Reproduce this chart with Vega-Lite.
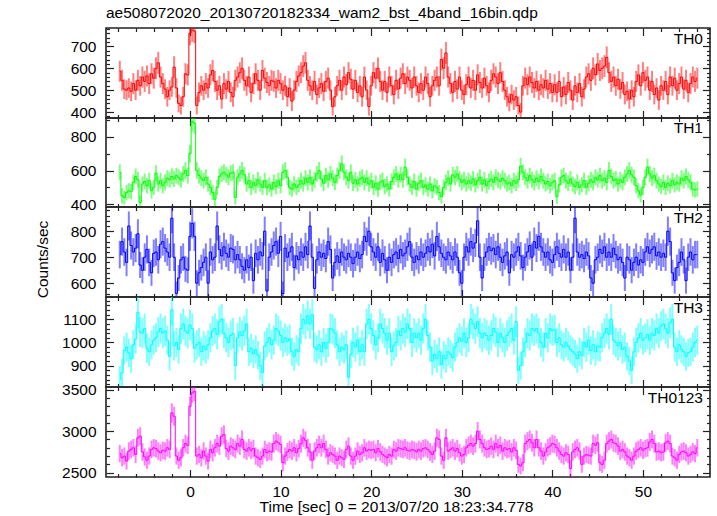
{
"$schema": "https://vega.github.io/schema/vega-lite/v6.json",
"padding": {"left": 34, "top": 5, "right": 5, "bottom": 0},
"spacing": 0,
"bounds": "flush",
"config": {
  "font": "Liberation Sans",
  "view": {"stroke": "#222222", "strokeWidth": 1.6},
  "axis": {"labelFont": "Liberation Sans", "labelFontSize": 15.5, "labelColor": "#000000", "titleFont": "Liberation Sans", "titleFontSize": 15.5, "titleFontWeight": "normal", "titleColor": "#000000", "domain": false, "grid": false, "tickColor": "#222222", "tickWidth": 1.2, "labelOverlap": false, "labelFlush": false},
  "text": {"font": "Liberation Sans", "fontSize": 15.5, "color": "#000000"}
},
"vconcat": [
{
 "width": 604, "height": 90,
 "title": {"text": "ae508072020_20130720182334_wam2_bst_4band_16bin.qdp", "anchor": "start", "frame": "group", "font": "Liberation Sans", "fontSize": 15.5, "fontWeight": "normal", "color": "#000000", "offset": 0},
 "data": {"name": "th0"},
 "layer": [
  {"mark": {"type": "errorbar", "color": "#ff0000", "opacity": 0.5, "thickness": 2, "clip": true},
   "encoding": {
    "x": {"field": "t", "type": "quantitative", "scale": {"domain": [-9.27, 57.4], "nice": false, "zero": false},
     "axis": {"orient": "bottom", "values": [-8,-6,-4,-2,0,2,4,6,8,10,12,14,16,18,20,22,24,26,28,30,32,34,36,38,40,42,44,46,48,50,52,54,56], "labels": false, "title": null, "tickSize": -7.5, "tickDash": {"condition": {"test": "datum.value % 10 === 0", "value": [8, 40]}, "value": [3.5, 40]}}},
    "y": {"field": "y", "type": "quantitative", "scale": {"domain": [373, 784], "nice": false, "zero": false},
     "axis": {"orient": "left", "values": [380,400,420,440,460,480,500,520,540,560,580,600,620,640,660,680,700,720,740,760,780], "format": "d", "labelExpr": "datum.value % 100 === 0 ? datum.label : ''", "labelPadding": 17.5, "title": null, "tickSize": -7.5, "tickDash": {"condition": {"test": "datum.value % 100 === 0", "value": [8, 40]}, "value": [3.5, 40]}}},
    "yError": {"field": "e"}
   }},
  {"mark": {"type": "line", "interpolate": "step", "color": "#ff0000", "strokeWidth": 1, "clip": true},
   "encoding": {
    "x": {"field": "t", "type": "quantitative", "scale": {"domain": [-9.27, 57.4], "nice": false, "zero": false},
     "axis": {"orient": "top", "values": [-8,-6,-4,-2,0,2,4,6,8,10,12,14,16,18,20,22,24,26,28,30,32,34,36,38,40,42,44,46,48,50,52,54,56], "labels": false, "title": null, "tickSize": -7.5, "tickDash": {"condition": {"test": "datum.value % 10 === 0", "value": [8, 40]}, "value": [3.5, 40]}}},
    "y": {"field": "y", "type": "quantitative", "scale": {"domain": [373, 784], "nice": false, "zero": false},
     "axis": {"orient": "right", "values": [380,400,420,440,460,480,500,520,540,560,580,600,620,640,660,680,700,720,740,760,780], "labels": false, "title": null, "tickSize": -7.5, "tickDash": {"condition": {"test": "datum.value % 100 === 0", "value": [8, 40]}, "value": [3.5, 40]}}}
   }},
  {"data": {"values": [{"label": "TH0"}]},
   "mark": {"type": "text", "align": "right", "baseline": "top", "dx": -7, "dy": 4},
   "encoding": {"x": {"datum": 57.4, "type": "quantitative", "axis": null}, "y": {"datum": 784, "type": "quantitative", "axis": null}, "text": {"field": "label"}}}
 ],
 "resolve": {"axis": {"x": "independent", "y": "independent"}}
},
{
 "width": 604, "height": 89,
 "data": {"name": "th1"},
 "layer": [
  {"mark": {"type": "errorbar", "color": "#00ff00", "opacity": 0.5, "thickness": 2, "clip": true},
   "encoding": {
    "x": {"field": "t", "type": "quantitative", "scale": {"domain": [-9.27, 57.4], "nice": false, "zero": false},
     "axis": {"orient": "bottom", "values": [-8,-6,-4,-2,0,2,4,6,8,10,12,14,16,18,20,22,24,26,28,30,32,34,36,38,40,42,44,46,48,50,52,54,56], "labels": false, "title": null, "tickSize": -7.5, "tickDash": {"condition": {"test": "datum.value % 10 === 0", "value": [8, 40]}, "value": [3.5, 40]}}},
    "y": {"field": "y", "type": "quantitative", "scale": {"domain": [384, 911], "nice": false, "zero": false},
     "axis": {"orient": "left", "values": [400,500,600,700,800,900], "format": "d", "labelExpr": "datum.value % 200 === 0 ? datum.label : ''", "labelPadding": 17.5, "title": null, "tickSize": -7.5, "tickDash": {"condition": {"test": "datum.value % 200 === 0", "value": [8, 40]}, "value": [3.5, 40]}}},
    "yError": {"field": "e"}
   }},
  {"mark": {"type": "line", "interpolate": "step", "color": "#00ff00", "strokeWidth": 1, "clip": true},
   "encoding": {
    "x": {"field": "t", "type": "quantitative", "scale": {"domain": [-9.27, 57.4], "nice": false, "zero": false},
     "axis": {"orient": "top", "values": [-8,-6,-4,-2,0,2,4,6,8,10,12,14,16,18,20,22,24,26,28,30,32,34,36,38,40,42,44,46,48,50,52,54,56], "labels": false, "title": null, "tickSize": -7.5, "tickDash": {"condition": {"test": "datum.value % 10 === 0", "value": [8, 40]}, "value": [3.5, 40]}}},
    "y": {"field": "y", "type": "quantitative", "scale": {"domain": [384, 911], "nice": false, "zero": false},
     "axis": {"orient": "right", "values": [400,500,600,700,800,900], "labels": false, "title": null, "tickSize": -7.5, "tickDash": {"condition": {"test": "datum.value % 200 === 0", "value": [8, 40]}, "value": [3.5, 40]}}}
   }},
  {"data": {"values": [{"label": "TH1"}]},
   "mark": {"type": "text", "align": "right", "baseline": "top", "dx": -7, "dy": 3},
   "encoding": {"x": {"datum": 57.4, "type": "quantitative", "axis": null}, "y": {"datum": 911, "type": "quantitative", "axis": null}, "text": {"field": "label"}}}
 ],
 "resolve": {"axis": {"x": "independent", "y": "independent"}}
},
{
 "width": 604, "height": 90,
 "data": {"name": "th2"},
 "layer": [
  {"mark": {"type": "errorbar", "color": "#0000ff", "opacity": 0.5, "thickness": 2, "clip": true},
   "encoding": {
    "x": {"field": "t", "type": "quantitative", "scale": {"domain": [-9.27, 57.4], "nice": false, "zero": false},
     "axis": {"orient": "bottom", "values": [-8,-6,-4,-2,0,2,4,6,8,10,12,14,16,18,20,22,24,26,28,30,32,34,36,38,40,42,44,46,48,50,52,54,56], "labels": false, "title": null, "tickSize": -7.5, "tickDash": {"condition": {"test": "datum.value % 10 === 0", "value": [8, 40]}, "value": [3.5, 40]}}},
    "y": {"field": "y", "type": "quantitative", "scale": {"domain": [547, 893], "nice": false, "zero": false},
     "axis": {"orient": "left", "values": [560,580,600,620,640,660,680,700,720,740,760,780,800,820,840,860,880], "format": "d", "labelExpr": "datum.value % 100 === 0 ? datum.label : ''", "labelPadding": 17.5, "title": "Counts/sec", "titlePadding": 20, "titleY": 52, "tickSize": -7.5, "tickDash": {"condition": {"test": "datum.value % 100 === 0", "value": [8, 40]}, "value": [3.5, 40]}}},
    "yError": {"field": "e"}
   }},
  {"mark": {"type": "line", "interpolate": "step", "color": "#0000ff", "strokeWidth": 1, "clip": true},
   "encoding": {
    "x": {"field": "t", "type": "quantitative", "scale": {"domain": [-9.27, 57.4], "nice": false, "zero": false},
     "axis": {"orient": "top", "values": [-8,-6,-4,-2,0,2,4,6,8,10,12,14,16,18,20,22,24,26,28,30,32,34,36,38,40,42,44,46,48,50,52,54,56], "labels": false, "title": null, "tickSize": -7.5, "tickDash": {"condition": {"test": "datum.value % 10 === 0", "value": [8, 40]}, "value": [3.5, 40]}}},
    "y": {"field": "y", "type": "quantitative", "scale": {"domain": [547, 893], "nice": false, "zero": false},
     "axis": {"orient": "right", "values": [560,580,600,620,640,660,680,700,720,740,760,780,800,820,840,860,880], "labels": false, "title": null, "tickSize": -7.5, "tickDash": {"condition": {"test": "datum.value % 100 === 0", "value": [8, 40]}, "value": [3.5, 40]}}}
   }},
  {"data": {"values": [{"label": "TH2"}]},
   "mark": {"type": "text", "align": "right", "baseline": "top", "dx": -7, "dy": 4},
   "encoding": {"x": {"datum": 57.4, "type": "quantitative", "axis": null}, "y": {"datum": 893, "type": "quantitative", "axis": null}, "text": {"field": "label"}}}
 ],
 "resolve": {"axis": {"x": "independent", "y": "independent"}}
},
{
 "width": 604, "height": 90,
 "data": {"name": "th3"},
 "layer": [
  {"mark": {"type": "errorbar", "color": "#00ffff", "opacity": 0.5, "thickness": 2, "clip": true},
   "encoding": {
    "x": {"field": "t", "type": "quantitative", "scale": {"domain": [-9.27, 57.4], "nice": false, "zero": false},
     "axis": {"orient": "bottom", "values": [-8,-6,-4,-2,0,2,4,6,8,10,12,14,16,18,20,22,24,26,28,30,32,34,36,38,40,42,44,46,48,50,52,54,56], "labels": false, "title": null, "tickSize": -7.5, "tickDash": {"condition": {"test": "datum.value % 10 === 0", "value": [8, 40]}, "value": [3.5, 40]}}},
    "y": {"field": "y", "type": "quantitative", "scale": {"domain": [808, 1196], "nice": false, "zero": false},
     "axis": {"orient": "left", "values": [820,840,860,880,900,920,940,960,980,1000,1020,1040,1060,1080,1100,1120,1140,1160,1180], "format": "d", "labelExpr": "datum.value % 100 === 0 ? datum.label : ''", "labelPadding": 17.5, "title": null, "tickSize": -7.5, "tickDash": {"condition": {"test": "datum.value % 100 === 0", "value": [8, 40]}, "value": [3.5, 40]}}},
    "yError": {"field": "e"}
   }},
  {"mark": {"type": "line", "interpolate": "step", "color": "#00ffff", "strokeWidth": 1, "clip": true},
   "encoding": {
    "x": {"field": "t", "type": "quantitative", "scale": {"domain": [-9.27, 57.4], "nice": false, "zero": false},
     "axis": {"orient": "top", "values": [-8,-6,-4,-2,0,2,4,6,8,10,12,14,16,18,20,22,24,26,28,30,32,34,36,38,40,42,44,46,48,50,52,54,56], "labels": false, "title": null, "tickSize": -7.5, "tickDash": {"condition": {"test": "datum.value % 10 === 0", "value": [8, 40]}, "value": [3.5, 40]}}},
    "y": {"field": "y", "type": "quantitative", "scale": {"domain": [808, 1196], "nice": false, "zero": false},
     "axis": {"orient": "right", "values": [820,840,860,880,900,920,940,960,980,1000,1020,1040,1060,1080,1100,1120,1140,1160,1180], "labels": false, "title": null, "tickSize": -7.5, "tickDash": {"condition": {"test": "datum.value % 100 === 0", "value": [8, 40]}, "value": [3.5, 40]}}}
   }},
  {"data": {"values": [{"label": "TH3"}]},
   "mark": {"type": "text", "align": "right", "baseline": "top", "dx": -7, "dy": 4},
   "encoding": {"x": {"datum": 57.4, "type": "quantitative", "axis": null}, "y": {"datum": 1196, "type": "quantitative", "axis": null}, "text": {"field": "label"}}}
 ],
 "resolve": {"axis": {"x": "independent", "y": "independent"}}
},
{
 "width": 604, "height": 90,
 "data": {"name": "th0123"},
 "layer": [
  {"mark": {"type": "errorbar", "color": "#ff00ff", "opacity": 0.5, "thickness": 2, "clip": true},
   "encoding": {
    "x": {"field": "t", "type": "quantitative", "scale": {"domain": [-9.27, 57.4], "nice": false, "zero": false},
     "axis": {"orient": "bottom", "values": [-8,-6,-4,-2,0,2,4,6,8,10,12,14,16,18,20,22,24,26,28,30,32,34,36,38,40,42,44,46,48,50,52,54,56], "format": "d", "labelExpr": "datum.value % 10 === 0 ? datum.label : ''", "labelPadding": 14.5, "title": "Time [sec] 0 = 2013/07/20 18:23:34.778", "titlePadding": 0, "titleX": 290, "tickSize": -7.5, "tickDash": {"condition": {"test": "datum.value % 10 === 0", "value": [8, 40]}, "value": [3.5, 40]}}},
    "y": {"field": "y", "type": "quantitative", "scale": {"domain": [2448, 3532], "nice": false, "zero": false},
     "axis": {"orient": "left", "values": [2500,2600,2700,2800,2900,3000,3100,3200,3300,3400,3500], "format": "d", "labelExpr": "datum.value % 500 === 0 ? datum.label : ''", "labelPadding": 17.5, "title": null, "tickSize": -7.5, "tickDash": {"condition": {"test": "datum.value % 500 === 0", "value": [8, 40]}, "value": [3.5, 40]}}},
    "yError": {"field": "e"}
   }},
  {"mark": {"type": "line", "interpolate": "step", "color": "#ff00ff", "strokeWidth": 1, "clip": true},
   "encoding": {
    "x": {"field": "t", "type": "quantitative", "scale": {"domain": [-9.27, 57.4], "nice": false, "zero": false},
     "axis": {"orient": "top", "values": [-8,-6,-4,-2,0,2,4,6,8,10,12,14,16,18,20,22,24,26,28,30,32,34,36,38,40,42,44,46,48,50,52,54,56], "labels": false, "title": null, "tickSize": -7.5, "tickDash": {"condition": {"test": "datum.value % 10 === 0", "value": [8, 40]}, "value": [3.5, 40]}}},
    "y": {"field": "y", "type": "quantitative", "scale": {"domain": [2448, 3532], "nice": false, "zero": false},
     "axis": {"orient": "right", "values": [2500,2600,2700,2800,2900,3000,3100,3200,3300,3400,3500], "labels": false, "title": null, "tickSize": -7.5, "tickDash": {"condition": {"test": "datum.value % 500 === 0", "value": [8, 40]}, "value": [3.5, 40]}}}
   }},
  {"data": {"values": [{"label": "TH0123"}]},
   "mark": {"type": "text", "align": "right", "baseline": "top", "dx": -7, "dy": 4},
   "encoding": {"x": {"datum": 57.4, "type": "quantitative", "axis": null}, "y": {"datum": 3532, "type": "quantitative", "axis": null}, "text": {"field": "label"}}}
 ],
 "resolve": {"axis": {"x": "independent", "y": "independent"}}
}
],
"datasets": {
"th0": [
{"t":-7.75,"y":586,"e":48},{"t":-7.5,"y":545,"e":48},{"t":-7.25,"y":505,"e":45},{"t":-7,"y":500,"e":45},
{"t":-6.75,"y":510,"e":45},{"t":-6.5,"y":495,"e":45},{"t":-6.25,"y":530,"e":48},{"t":-6,"y":500,"e":45},
{"t":-5.75,"y":545,"e":48},{"t":-5.5,"y":520,"e":45},{"t":-5.25,"y":560,"e":48},{"t":-5,"y":540,"e":48},
{"t":-4.75,"y":565,"e":48},{"t":-4.5,"y":530,"e":48},{"t":-4.25,"y":575,"e":48},{"t":-4,"y":555,"e":48},
{"t":-3.75,"y":600,"e":50},{"t":-3.5,"y":625,"e":50},{"t":-3.25,"y":560,"e":48},{"t":-3,"y":530,"e":48},
{"t":-2.75,"y":505,"e":45},{"t":-2.5,"y":470,"e":45},{"t":-2.25,"y":500,"e":45},{"t":-2,"y":515,"e":45},
{"t":-1.75,"y":605,"e":50},{"t":-1.5,"y":510,"e":45},{"t":-1.25,"y":440,"e":41},{"t":-1,"y":430,"e":41},
{"t":-0.75,"y":470,"e":45},{"t":-0.5,"y":575,"e":48},{"t":-0.25,"y":570,"e":48},{"t":0,"y":760,"e":55},
{"t":0.25,"y":775,"e":55},{"t":0.5,"y":770,"e":55},{"t":0.75,"y":430,"e":41},{"t":1,"y":490,"e":45},
{"t":1.25,"y":520,"e":45},{"t":1.5,"y":500,"e":45},{"t":1.75,"y":530,"e":48},{"t":2,"y":510,"e":45},
{"t":2.25,"y":570,"e":48},{"t":2.5,"y":590,"e":48},{"t":2.75,"y":540,"e":48},{"t":3,"y":500,"e":45},
{"t":3.25,"y":520,"e":45},{"t":3.5,"y":460,"e":45},{"t":3.75,"y":530,"e":48},{"t":4,"y":505,"e":45},
{"t":4.25,"y":540,"e":48},{"t":4.5,"y":490,"e":45},{"t":4.75,"y":470,"e":45},{"t":5,"y":545,"e":48},
{"t":5.25,"y":560,"e":48},{"t":5.5,"y":580,"e":48},{"t":5.75,"y":600,"e":50},{"t":6,"y":545,"e":48},
{"t":6.25,"y":520,"e":45},{"t":6.5,"y":560,"e":48},{"t":6.75,"y":490,"e":45},{"t":7,"y":530,"e":48},
{"t":7.25,"y":575,"e":48},{"t":7.5,"y":545,"e":48},{"t":7.75,"y":500,"e":45},{"t":8,"y":590,"e":48},
{"t":8.25,"y":555,"e":48},{"t":8.5,"y":535,"e":48},{"t":8.75,"y":520,"e":45},{"t":9,"y":545,"e":48},
{"t":9.25,"y":540,"e":48},{"t":9.5,"y":510,"e":45},{"t":9.75,"y":545,"e":48},{"t":10,"y":530,"e":48},
{"t":10.25,"y":500,"e":45},{"t":10.5,"y":520,"e":45},{"t":10.75,"y":470,"e":45},{"t":11,"y":510,"e":45},
{"t":11.25,"y":450,"e":45},{"t":11.5,"y":500,"e":45},{"t":11.75,"y":540,"e":48},{"t":12,"y":565,"e":48},
{"t":12.25,"y":580,"e":48},{"t":12.5,"y":610,"e":50},{"t":12.75,"y":625,"e":50},{"t":13,"y":545,"e":48},
{"t":13.25,"y":520,"e":45},{"t":13.5,"y":500,"e":45},{"t":13.75,"y":540,"e":48},{"t":14,"y":480,"e":45},
{"t":14.25,"y":510,"e":45},{"t":14.5,"y":530,"e":48},{"t":14.75,"y":495,"e":45},{"t":15,"y":540,"e":48},
{"t":15.25,"y":555,"e":48},{"t":15.5,"y":500,"e":45},{"t":15.75,"y":425,"e":41},{"t":16,"y":470,"e":45},
{"t":16.25,"y":520,"e":45},{"t":16.5,"y":545,"e":48},{"t":16.75,"y":500,"e":45},{"t":17,"y":560,"e":48},
{"t":17.25,"y":525,"e":48},{"t":17.5,"y":580,"e":48},{"t":17.75,"y":550,"e":48},{"t":18,"y":505,"e":45},
{"t":18.25,"y":545,"e":48},{"t":18.5,"y":490,"e":45},{"t":18.75,"y":520,"e":45},{"t":19,"y":470,"e":45},
{"t":19.25,"y":560,"e":48},{"t":19.5,"y":500,"e":45},{"t":19.75,"y":425,"e":41},{"t":20,"y":520,"e":45},
{"t":20.25,"y":580,"e":48},{"t":20.5,"y":555,"e":48},{"t":20.75,"y":600,"e":50},{"t":21,"y":540,"e":48},
{"t":21.25,"y":500,"e":45},{"t":21.5,"y":540,"e":48},{"t":21.75,"y":490,"e":45},{"t":22,"y":560,"e":48},
{"t":22.25,"y":520,"e":45},{"t":22.5,"y":480,"e":45},{"t":22.75,"y":545,"e":48},{"t":23,"y":505,"e":45},
{"t":23.25,"y":555,"e":48},{"t":23.5,"y":575,"e":48},{"t":23.75,"y":530,"e":48},{"t":24,"y":560,"e":48},
{"t":24.25,"y":545,"e":48},{"t":24.5,"y":510,"e":45},{"t":24.75,"y":560,"e":48},{"t":25,"y":520,"e":45},
{"t":25.25,"y":490,"e":45},{"t":25.5,"y":530,"e":48},{"t":25.75,"y":500,"e":45},{"t":26,"y":560,"e":48},
{"t":26.25,"y":530,"e":48},{"t":26.5,"y":470,"e":45},{"t":26.75,"y":520,"e":45},{"t":27,"y":545,"e":48},
{"t":27.25,"y":560,"e":48},{"t":27.5,"y":520,"e":45},{"t":27.75,"y":640,"e":50},{"t":28,"y":600,"e":50},
{"t":28.25,"y":670,"e":50},{"t":28.5,"y":560,"e":48},{"t":28.75,"y":530,"e":48},{"t":29,"y":490,"e":45},
{"t":29.25,"y":540,"e":48},{"t":29.5,"y":505,"e":45},{"t":29.75,"y":560,"e":48},{"t":30,"y":500,"e":45},
{"t":30.25,"y":480,"e":45},{"t":30.5,"y":525,"e":48},{"t":30.75,"y":560,"e":48},{"t":31,"y":510,"e":45},
{"t":31.25,"y":545,"e":48},{"t":31.5,"y":500,"e":45},{"t":31.75,"y":570,"e":48},{"t":32,"y":535,"e":48},
{"t":32.25,"y":510,"e":45},{"t":32.5,"y":555,"e":48},{"t":32.75,"y":520,"e":45},{"t":33,"y":490,"e":45},
{"t":33.25,"y":545,"e":48},{"t":33.5,"y":575,"e":48},{"t":33.75,"y":560,"e":48},{"t":34,"y":530,"e":48},
{"t":34.25,"y":580,"e":48},{"t":34.5,"y":540,"e":48},{"t":34.75,"y":500,"e":45},{"t":35,"y":470,"e":45},
{"t":35.25,"y":445,"e":41},{"t":35.5,"y":480,"e":45},{"t":35.75,"y":455,"e":45},{"t":36,"y":470,"e":45},
{"t":36.25,"y":430,"e":41},{"t":36.5,"y":400,"e":41},{"t":36.75,"y":520,"e":45},{"t":37,"y":555,"e":48},
{"t":37.25,"y":525,"e":48},{"t":37.5,"y":560,"e":48},{"t":37.75,"y":535,"e":48},{"t":38,"y":510,"e":45},
{"t":38.25,"y":540,"e":48},{"t":38.5,"y":500,"e":45},{"t":38.75,"y":525,"e":48},{"t":39,"y":510,"e":45},
{"t":39.25,"y":545,"e":48},{"t":39.5,"y":505,"e":45},{"t":39.75,"y":530,"e":48},{"t":40,"y":490,"e":45},
{"t":40.25,"y":525,"e":48},{"t":40.5,"y":490,"e":45},{"t":40.75,"y":540,"e":48},{"t":41,"y":470,"e":45},
{"t":41.25,"y":515,"e":45},{"t":41.5,"y":480,"e":45},{"t":41.75,"y":535,"e":48},{"t":42,"y":500,"e":45},
{"t":42.25,"y":455,"e":45},{"t":42.5,"y":520,"e":45},{"t":42.75,"y":490,"e":45},{"t":43,"y":530,"e":48},
{"t":43.25,"y":470,"e":45},{"t":43.5,"y":505,"e":45},{"t":43.75,"y":560,"e":48},{"t":44,"y":575,"e":48},
{"t":44.25,"y":545,"e":48},{"t":44.5,"y":600,"e":50},{"t":44.75,"y":570,"e":48},{"t":45,"y":620,"e":50},
{"t":45.25,"y":590,"e":48},{"t":45.5,"y":600,"e":50},{"t":45.75,"y":610,"e":50},{"t":46,"y":650,"e":50},
{"t":46.25,"y":580,"e":48},{"t":46.5,"y":540,"e":48},{"t":46.75,"y":560,"e":48},{"t":47,"y":520,"e":45},
{"t":47.25,"y":550,"e":48},{"t":47.5,"y":505,"e":45},{"t":47.75,"y":535,"e":48},{"t":48,"y":480,"e":45},
{"t":48.25,"y":495,"e":45},{"t":48.5,"y":460,"e":45},{"t":48.75,"y":500,"e":45},{"t":49,"y":470,"e":45},
{"t":49.25,"y":540,"e":48},{"t":49.5,"y":570,"e":48},{"t":49.75,"y":520,"e":45},{"t":50,"y":580,"e":48},
{"t":50.25,"y":545,"e":48},{"t":50.5,"y":560,"e":48},{"t":50.75,"y":500,"e":45},{"t":51,"y":540,"e":48},
{"t":51.25,"y":480,"e":45},{"t":51.5,"y":510,"e":45},{"t":51.75,"y":455,"e":45},{"t":52,"y":520,"e":45},
{"t":52.25,"y":500,"e":45},{"t":52.5,"y":540,"e":48},{"t":52.75,"y":480,"e":45},{"t":53,"y":560,"e":48},
{"t":53.25,"y":520,"e":45},{"t":53.5,"y":555,"e":48},{"t":53.75,"y":500,"e":45},{"t":54,"y":530,"e":48},
{"t":54.25,"y":560,"e":48},{"t":54.5,"y":505,"e":45},{"t":54.75,"y":545,"e":48},{"t":55,"y":490,"e":45},
{"t":55.25,"y":530,"e":48},{"t":55.5,"y":560,"e":48},{"t":55.75,"y":540,"e":48},{"t":56,"y":555,"e":48}
],
"th1": [
{"t":-7.75,"y":590,"e":47},{"t":-7.5,"y":450,"e":45},{"t":-7.25,"y":440,"e":41},{"t":-7,"y":470,"e":45},
{"t":-6.75,"y":480,"e":45},{"t":-6.5,"y":475,"e":45},{"t":-6.25,"y":530,"e":47},{"t":-6,"y":565,"e":47},
{"t":-5.75,"y":545,"e":47},{"t":-5.5,"y":410,"e":41},{"t":-5.25,"y":520,"e":45},{"t":-5,"y":535,"e":47},
{"t":-4.75,"y":510,"e":45},{"t":-4.5,"y":540,"e":47},{"t":-4.25,"y":480,"e":45},{"t":-4,"y":500,"e":45},
{"t":-3.75,"y":585,"e":47},{"t":-3.5,"y":520,"e":45},{"t":-3.25,"y":540,"e":47},{"t":-3,"y":510,"e":45},
{"t":-2.75,"y":530,"e":47},{"t":-2.5,"y":555,"e":47},{"t":-2.25,"y":545,"e":47},{"t":-2,"y":565,"e":47},
{"t":-1.75,"y":550,"e":47},{"t":-1.5,"y":570,"e":47},{"t":-1.25,"y":560,"e":47},{"t":-1,"y":545,"e":47},
{"t":-0.75,"y":580,"e":47},{"t":-0.5,"y":600,"e":50},{"t":-0.25,"y":570,"e":47},{"t":0,"y":700,"e":53},
{"t":0.25,"y":890,"e":60},{"t":0.5,"y":880,"e":60},{"t":0.75,"y":600,"e":50},{"t":1,"y":570,"e":47},
{"t":1.25,"y":555,"e":47},{"t":1.5,"y":540,"e":47},{"t":1.75,"y":560,"e":47},{"t":2,"y":520,"e":45},
{"t":2.25,"y":500,"e":45},{"t":2.5,"y":470,"e":45},{"t":2.75,"y":430,"e":41},{"t":3,"y":500,"e":45},
{"t":3.25,"y":565,"e":47},{"t":3.5,"y":580,"e":47},{"t":3.75,"y":590,"e":47},{"t":4,"y":575,"e":47},
{"t":4.25,"y":560,"e":47},{"t":4.5,"y":585,"e":47},{"t":4.75,"y":590,"e":47},{"t":5,"y":440,"e":41},
{"t":5.25,"y":560,"e":47},{"t":5.5,"y":580,"e":47},{"t":5.75,"y":600,"e":50},{"t":6,"y":575,"e":47},
{"t":6.25,"y":520,"e":45},{"t":6.5,"y":540,"e":47},{"t":6.75,"y":500,"e":45},{"t":7,"y":530,"e":47},
{"t":7.25,"y":510,"e":45},{"t":7.5,"y":545,"e":47},{"t":7.75,"y":520,"e":45},{"t":8,"y":500,"e":45},
{"t":8.25,"y":540,"e":47},{"t":8.5,"y":500,"e":45},{"t":8.75,"y":515,"e":45},{"t":9,"y":490,"e":45},
{"t":9.25,"y":530,"e":47},{"t":9.5,"y":505,"e":45},{"t":9.75,"y":540,"e":47},{"t":10,"y":510,"e":45},
{"t":10.25,"y":590,"e":47},{"t":10.5,"y":600,"e":50},{"t":10.75,"y":560,"e":47},{"t":11,"y":500,"e":45},
{"t":11.25,"y":490,"e":45},{"t":11.5,"y":520,"e":45},{"t":11.75,"y":500,"e":45},{"t":12,"y":515,"e":45},
{"t":12.25,"y":540,"e":47},{"t":12.5,"y":520,"e":45},{"t":12.75,"y":555,"e":47},{"t":13,"y":530,"e":47},
{"t":13.25,"y":560,"e":47},{"t":13.5,"y":520,"e":45},{"t":13.75,"y":545,"e":47},{"t":14,"y":580,"e":47},
{"t":14.25,"y":600,"e":50},{"t":14.5,"y":550,"e":47},{"t":14.75,"y":525,"e":47},{"t":15,"y":570,"e":47},
{"t":15.25,"y":545,"e":47},{"t":15.5,"y":580,"e":47},{"t":15.75,"y":555,"e":47},{"t":16,"y":530,"e":47},
{"t":16.25,"y":570,"e":47},{"t":16.5,"y":600,"e":50},{"t":16.75,"y":640,"e":50},{"t":17,"y":590,"e":47},
{"t":17.25,"y":560,"e":47},{"t":17.5,"y":540,"e":47},{"t":17.75,"y":590,"e":47},{"t":18,"y":525,"e":47},
{"t":18.25,"y":545,"e":47},{"t":18.5,"y":520,"e":45},{"t":18.75,"y":550,"e":47},{"t":19,"y":560,"e":47},
{"t":19.25,"y":530,"e":47},{"t":19.5,"y":555,"e":47},{"t":19.75,"y":520,"e":45},{"t":20,"y":540,"e":47},
{"t":20.25,"y":500,"e":45},{"t":20.5,"y":525,"e":47},{"t":20.75,"y":490,"e":45},{"t":21,"y":530,"e":47},
{"t":21.25,"y":540,"e":47},{"t":21.5,"y":505,"e":45},{"t":21.75,"y":520,"e":45},{"t":22,"y":490,"e":45},
{"t":22.25,"y":535,"e":47},{"t":22.5,"y":560,"e":47},{"t":22.75,"y":580,"e":47},{"t":23,"y":545,"e":47},
{"t":23.25,"y":575,"e":47},{"t":23.5,"y":545,"e":47},{"t":23.75,"y":620,"e":50},{"t":24,"y":560,"e":47},
{"t":24.25,"y":520,"e":45},{"t":24.5,"y":500,"e":45},{"t":24.75,"y":535,"e":47},{"t":25,"y":490,"e":45},
{"t":25.25,"y":525,"e":47},{"t":25.5,"y":540,"e":47},{"t":25.75,"y":500,"e":45},{"t":26,"y":515,"e":45},
{"t":26.25,"y":490,"e":45},{"t":26.5,"y":520,"e":45},{"t":26.75,"y":480,"e":45},{"t":27,"y":510,"e":45},
{"t":27.25,"y":500,"e":45},{"t":27.5,"y":470,"e":45},{"t":27.75,"y":445,"e":41},{"t":28,"y":500,"e":45},
{"t":28.25,"y":530,"e":47},{"t":28.5,"y":555,"e":47},{"t":28.75,"y":520,"e":45},{"t":29,"y":575,"e":47},
{"t":29.25,"y":560,"e":47},{"t":29.5,"y":580,"e":47},{"t":29.75,"y":550,"e":47},{"t":30,"y":530,"e":47},
{"t":30.25,"y":545,"e":47},{"t":30.5,"y":520,"e":45},{"t":30.75,"y":540,"e":47},{"t":31,"y":525,"e":47},
{"t":31.25,"y":550,"e":47},{"t":31.5,"y":515,"e":45},{"t":31.75,"y":540,"e":47},{"t":32,"y":560,"e":47},
{"t":32.25,"y":520,"e":45},{"t":32.5,"y":545,"e":47},{"t":32.75,"y":510,"e":45},{"t":33,"y":535,"e":47},
{"t":33.25,"y":550,"e":47},{"t":33.5,"y":530,"e":47},{"t":33.75,"y":560,"e":47},{"t":34,"y":545,"e":47},
{"t":34.25,"y":535,"e":47},{"t":34.5,"y":555,"e":47},{"t":34.75,"y":540,"e":47},{"t":35,"y":520,"e":45},
{"t":35.25,"y":530,"e":47},{"t":35.5,"y":510,"e":45},{"t":35.75,"y":540,"e":47},{"t":36,"y":525,"e":47},
{"t":36.25,"y":545,"e":47},{"t":36.5,"y":625,"e":50},{"t":36.75,"y":590,"e":47},{"t":37,"y":560,"e":47},
{"t":37.25,"y":540,"e":47},{"t":37.5,"y":570,"e":47},{"t":37.75,"y":545,"e":47},{"t":38,"y":530,"e":47},
{"t":38.25,"y":555,"e":47},{"t":38.5,"y":535,"e":47},{"t":38.75,"y":565,"e":47},{"t":39,"y":540,"e":47},
{"t":39.25,"y":520,"e":45},{"t":39.5,"y":535,"e":47},{"t":39.75,"y":510,"e":45},{"t":40,"y":530,"e":47},
{"t":40.25,"y":540,"e":47},{"t":40.5,"y":445,"e":41},{"t":40.75,"y":515,"e":45},{"t":41,"y":560,"e":47},
{"t":41.25,"y":570,"e":47},{"t":41.5,"y":540,"e":47},{"t":41.75,"y":525,"e":47},{"t":42,"y":550,"e":47},
{"t":42.25,"y":520,"e":45},{"t":42.5,"y":505,"e":45},{"t":42.75,"y":530,"e":47},{"t":43,"y":500,"e":45},
{"t":43.25,"y":515,"e":45},{"t":43.5,"y":540,"e":47},{"t":43.75,"y":500,"e":45},{"t":44,"y":525,"e":47},
{"t":44.25,"y":545,"e":47},{"t":44.5,"y":530,"e":47},{"t":44.75,"y":560,"e":47},{"t":45,"y":545,"e":47},
{"t":45.25,"y":570,"e":47},{"t":45.5,"y":540,"e":47},{"t":45.75,"y":555,"e":47},{"t":46,"y":530,"e":47},
{"t":46.25,"y":600,"e":50},{"t":46.5,"y":565,"e":47},{"t":46.75,"y":540,"e":47},{"t":47,"y":550,"e":47},
{"t":47.25,"y":520,"e":45},{"t":47.5,"y":545,"e":47},{"t":47.75,"y":530,"e":47},{"t":48,"y":560,"e":47},
{"t":48.25,"y":580,"e":47},{"t":48.5,"y":600,"e":50},{"t":48.75,"y":575,"e":47},{"t":49,"y":560,"e":47},
{"t":49.25,"y":510,"e":45},{"t":49.5,"y":480,"e":45},{"t":49.75,"y":455,"e":45},{"t":50,"y":500,"e":45},
{"t":50.25,"y":560,"e":47},{"t":50.5,"y":620,"e":50},{"t":50.75,"y":580,"e":47},{"t":51,"y":555,"e":47},
{"t":51.25,"y":570,"e":47},{"t":51.5,"y":540,"e":47},{"t":51.75,"y":520,"e":45},{"t":52,"y":505,"e":45},
{"t":52.25,"y":530,"e":47},{"t":52.5,"y":500,"e":45},{"t":52.75,"y":525,"e":47},{"t":53,"y":510,"e":45},
{"t":53.25,"y":540,"e":47},{"t":53.5,"y":515,"e":45},{"t":53.75,"y":530,"e":47},{"t":54,"y":520,"e":45},
{"t":54.25,"y":555,"e":47},{"t":54.5,"y":540,"e":47},{"t":54.75,"y":565,"e":47},{"t":55,"y":545,"e":47},
{"t":55.25,"y":530,"e":47},{"t":55.5,"y":490,"e":45},{"t":55.75,"y":485,"e":45},{"t":56,"y":490,"e":45}
],
"th2": [
{"t":-7.75,"y":710,"e":53},{"t":-7.5,"y":760,"e":54},{"t":-7.25,"y":720,"e":53},{"t":-7,"y":680,"e":53},
{"t":-6.75,"y":820,"e":56},{"t":-6.5,"y":745,"e":54},{"t":-6.25,"y":720,"e":53},{"t":-6,"y":735,"e":54},
{"t":-5.75,"y":790,"e":56},{"t":-5.5,"y":670,"e":50},{"t":-5.25,"y":650,"e":50},{"t":-5,"y":700,"e":53},
{"t":-4.75,"y":730,"e":54},{"t":-4.5,"y":680,"e":53},{"t":-4.25,"y":640,"e":50},{"t":-4,"y":715,"e":53},
{"t":-3.75,"y":720,"e":53},{"t":-3.5,"y":690,"e":53},{"t":-3.25,"y":750,"e":54},{"t":-3,"y":760,"e":54},
{"t":-2.75,"y":735,"e":54},{"t":-2.5,"y":720,"e":53},{"t":-2.25,"y":700,"e":53},{"t":-2,"y":850,"e":58},
{"t":-1.75,"y":700,"e":53},{"t":-1.5,"y":560,"e":47},{"t":-1.25,"y":620,"e":50},{"t":-1,"y":690,"e":53},
{"t":-0.75,"y":700,"e":53},{"t":-0.5,"y":655,"e":50},{"t":-0.25,"y":650,"e":50},{"t":0,"y":780,"e":56},
{"t":0.25,"y":830,"e":58},{"t":0.5,"y":780,"e":56},{"t":0.75,"y":600,"e":50},{"t":1,"y":640,"e":50},
{"t":1.25,"y":660,"e":50},{"t":1.5,"y":680,"e":53},{"t":1.75,"y":700,"e":53},{"t":2,"y":600,"e":50},
{"t":2.25,"y":720,"e":53},{"t":2.5,"y":690,"e":53},{"t":2.75,"y":700,"e":53},{"t":3,"y":820,"e":56},
{"t":3.25,"y":730,"e":54},{"t":3.5,"y":705,"e":53},{"t":3.75,"y":740,"e":54},{"t":4,"y":715,"e":53},
{"t":4.25,"y":700,"e":53},{"t":4.5,"y":735,"e":54},{"t":4.75,"y":730,"e":54},{"t":5,"y":690,"e":53},
{"t":5.25,"y":710,"e":53},{"t":5.5,"y":690,"e":53},{"t":5.75,"y":665,"e":50},{"t":6,"y":650,"e":50},
{"t":6.25,"y":690,"e":53},{"t":6.5,"y":660,"e":50},{"t":6.75,"y":700,"e":53},{"t":7,"y":610,"e":50},
{"t":7.25,"y":715,"e":53},{"t":7.5,"y":690,"e":53},{"t":7.75,"y":720,"e":53},{"t":8,"y":705,"e":53},
{"t":8.25,"y":800,"e":56},{"t":8.5,"y":570,"e":47},{"t":8.75,"y":700,"e":53},{"t":9,"y":720,"e":53},
{"t":9.25,"y":745,"e":54},{"t":9.5,"y":760,"e":54},{"t":9.75,"y":715,"e":53},{"t":10,"y":780,"e":56},
{"t":10.25,"y":560,"e":47},{"t":10.5,"y":735,"e":54},{"t":10.75,"y":700,"e":53},{"t":11,"y":720,"e":53},
{"t":11.25,"y":740,"e":54},{"t":11.5,"y":660,"e":50},{"t":11.75,"y":705,"e":53},{"t":12,"y":690,"e":53},
{"t":12.25,"y":720,"e":53},{"t":12.5,"y":700,"e":53},{"t":12.75,"y":740,"e":54},{"t":13,"y":710,"e":53},
{"t":13.25,"y":820,"e":56},{"t":13.5,"y":700,"e":53},{"t":13.75,"y":580,"e":47},{"t":14,"y":690,"e":53},
{"t":14.25,"y":720,"e":53},{"t":14.5,"y":700,"e":53},{"t":14.75,"y":715,"e":53},{"t":15,"y":695,"e":53},
{"t":15.25,"y":760,"e":54},{"t":15.5,"y":730,"e":54},{"t":15.75,"y":620,"e":50},{"t":16,"y":680,"e":53},
{"t":16.25,"y":705,"e":53},{"t":16.5,"y":680,"e":53},{"t":16.75,"y":720,"e":53},{"t":17,"y":700,"e":53},
{"t":17.25,"y":690,"e":53},{"t":17.5,"y":715,"e":53},{"t":17.75,"y":700,"e":53},{"t":18,"y":675,"e":53},
{"t":18.25,"y":700,"e":53},{"t":18.5,"y":720,"e":53},{"t":18.75,"y":695,"e":53},{"t":19,"y":710,"e":53},
{"t":19.25,"y":780,"e":56},{"t":19.5,"y":760,"e":54},{"t":19.75,"y":800,"e":56},{"t":20,"y":740,"e":54},
{"t":20.25,"y":720,"e":53},{"t":20.5,"y":700,"e":53},{"t":20.75,"y":740,"e":54},{"t":21,"y":680,"e":53},
{"t":21.25,"y":715,"e":53},{"t":21.5,"y":690,"e":53},{"t":21.75,"y":650,"e":50},{"t":22,"y":700,"e":53},
{"t":22.25,"y":680,"e":53},{"t":22.5,"y":710,"e":53},{"t":22.75,"y":720,"e":53},{"t":23,"y":695,"e":53},
{"t":23.25,"y":730,"e":54},{"t":23.5,"y":705,"e":53},{"t":23.75,"y":715,"e":53},{"t":24,"y":740,"e":54},
{"t":24.25,"y":760,"e":54},{"t":24.5,"y":700,"e":53},{"t":24.75,"y":680,"e":53},{"t":25,"y":705,"e":53},
{"t":25.25,"y":690,"e":53},{"t":25.5,"y":720,"e":53},{"t":25.75,"y":700,"e":53},{"t":26,"y":715,"e":53},
{"t":26.25,"y":740,"e":54},{"t":26.5,"y":720,"e":53},{"t":26.75,"y":750,"e":54},{"t":27,"y":705,"e":53},
{"t":27.25,"y":780,"e":56},{"t":27.5,"y":740,"e":54},{"t":27.75,"y":715,"e":53},{"t":28,"y":700,"e":53},
{"t":28.25,"y":690,"e":53},{"t":28.5,"y":720,"e":53},{"t":28.75,"y":705,"e":53},{"t":29,"y":690,"e":53},
{"t":29.25,"y":720,"e":53},{"t":29.5,"y":700,"e":53},{"t":29.75,"y":640,"e":50},{"t":30,"y":600,"e":50},
{"t":30.25,"y":700,"e":53},{"t":30.5,"y":740,"e":54},{"t":30.75,"y":720,"e":53},{"t":31,"y":760,"e":54},
{"t":31.25,"y":735,"e":54},{"t":31.5,"y":755,"e":54},{"t":31.75,"y":840,"e":58},{"t":32,"y":700,"e":53},
{"t":32.25,"y":620,"e":50},{"t":32.5,"y":700,"e":53},{"t":32.75,"y":720,"e":53},{"t":33,"y":740,"e":54},
{"t":33.25,"y":725,"e":54},{"t":33.5,"y":735,"e":54},{"t":33.75,"y":710,"e":53},{"t":34,"y":740,"e":54},
{"t":34.25,"y":700,"e":53},{"t":34.5,"y":680,"e":53},{"t":34.75,"y":705,"e":53},{"t":35,"y":720,"e":53},
{"t":35.25,"y":640,"e":50},{"t":35.5,"y":710,"e":53},{"t":35.75,"y":700,"e":53},{"t":36,"y":720,"e":53},
{"t":36.25,"y":740,"e":54},{"t":36.5,"y":705,"e":53},{"t":36.75,"y":660,"e":50},{"t":37,"y":700,"e":53},
{"t":37.25,"y":720,"e":53},{"t":37.5,"y":745,"e":54},{"t":37.75,"y":700,"e":53},{"t":38,"y":760,"e":54},
{"t":38.25,"y":735,"e":54},{"t":38.5,"y":780,"e":56},{"t":38.75,"y":740,"e":54},{"t":39,"y":720,"e":53},
{"t":39.25,"y":700,"e":53},{"t":39.5,"y":720,"e":53},{"t":39.75,"y":690,"e":53},{"t":40,"y":680,"e":53},
{"t":40.25,"y":710,"e":53},{"t":40.5,"y":740,"e":54},{"t":40.75,"y":715,"e":53},{"t":41,"y":700,"e":53},
{"t":41.25,"y":730,"e":54},{"t":41.5,"y":700,"e":53},{"t":41.75,"y":720,"e":53},{"t":42,"y":650,"e":50},
{"t":42.25,"y":700,"e":53},{"t":42.5,"y":850,"e":58},{"t":42.75,"y":720,"e":53},{"t":43,"y":700,"e":53},
{"t":43.25,"y":710,"e":53},{"t":43.5,"y":695,"e":53},{"t":43.75,"y":720,"e":53},{"t":44,"y":705,"e":53},
{"t":44.25,"y":620,"e":50},{"t":44.5,"y":600,"e":50},{"t":44.75,"y":690,"e":53},{"t":45,"y":700,"e":53},
{"t":45.25,"y":730,"e":54},{"t":45.5,"y":715,"e":53},{"t":45.75,"y":740,"e":54},{"t":46,"y":700,"e":53},
{"t":46.25,"y":720,"e":53},{"t":46.5,"y":700,"e":53},{"t":46.75,"y":735,"e":54},{"t":47,"y":710,"e":53},
{"t":47.25,"y":690,"e":53},{"t":47.5,"y":700,"e":53},{"t":47.75,"y":680,"e":53},{"t":48,"y":620,"e":50},
{"t":48.25,"y":700,"e":53},{"t":48.5,"y":690,"e":53},{"t":48.75,"y":650,"e":50},{"t":49,"y":680,"e":53},
{"t":49.25,"y":700,"e":53},{"t":49.5,"y":670,"e":50},{"t":49.75,"y":690,"e":53},{"t":50,"y":680,"e":53},
{"t":50.25,"y":720,"e":53},{"t":50.5,"y":740,"e":54},{"t":50.75,"y":715,"e":53},{"t":51,"y":730,"e":54},
{"t":51.25,"y":740,"e":54},{"t":51.5,"y":705,"e":53},{"t":51.75,"y":720,"e":53},{"t":52,"y":700,"e":53},
{"t":52.25,"y":715,"e":53},{"t":52.5,"y":700,"e":53},{"t":52.75,"y":800,"e":56},{"t":53,"y":760,"e":54},
{"t":53.25,"y":640,"e":50},{"t":53.5,"y":610,"e":50},{"t":53.75,"y":660,"e":50},{"t":54,"y":680,"e":53},
{"t":54.25,"y":720,"e":53},{"t":54.5,"y":690,"e":53},{"t":54.75,"y":610,"e":50},{"t":55,"y":700,"e":53},
{"t":55.25,"y":720,"e":53},{"t":55.5,"y":690,"e":53},{"t":55.75,"y":710,"e":53},{"t":56,"y":710,"e":53}
],
"th3": [
{"t":-7.75,"y":840,"e":59},{"t":-7.5,"y":870,"e":59},{"t":-7.25,"y":965,"e":61},{"t":-7,"y":980,"e":63},
{"t":-6.75,"y":955,"e":61},{"t":-6.5,"y":930,"e":61},{"t":-6.25,"y":990,"e":63},{"t":-6,"y":1015,"e":63},
{"t":-5.75,"y":1130,"e":67},{"t":-5.5,"y":1045,"e":65},{"t":-5.25,"y":1040,"e":65},{"t":-5,"y":1060,"e":65},
{"t":-4.75,"y":975,"e":63},{"t":-4.5,"y":960,"e":61},{"t":-4.25,"y":990,"e":63},{"t":-4,"y":1010,"e":63},
{"t":-3.75,"y":1020,"e":63},{"t":-3.5,"y":1045,"e":65},{"t":-3.25,"y":1060,"e":65},{"t":-3,"y":1040,"e":65},
{"t":-2.75,"y":1050,"e":65},{"t":-2.5,"y":1010,"e":63},{"t":-2.25,"y":940,"e":61},{"t":-2,"y":1140,"e":67},
{"t":-1.75,"y":985,"e":63},{"t":-1.5,"y":1000,"e":63},{"t":-1.25,"y":970,"e":61},{"t":-1,"y":1060,"e":65},
{"t":-0.75,"y":1080,"e":66},{"t":-0.5,"y":1050,"e":65},{"t":-0.25,"y":1040,"e":65},{"t":0,"y":1075,"e":66},
{"t":0.25,"y":1060,"e":65},{"t":0.5,"y":975,"e":63},{"t":0.75,"y":990,"e":63},{"t":1,"y":1000,"e":63},
{"t":1.25,"y":960,"e":61},{"t":1.5,"y":985,"e":63},{"t":1.75,"y":970,"e":61},{"t":2,"y":990,"e":63},
{"t":2.25,"y":1020,"e":63},{"t":2.5,"y":1050,"e":65},{"t":2.75,"y":1060,"e":65},{"t":3,"y":1035,"e":65},
{"t":3.25,"y":1090,"e":66},{"t":3.5,"y":1100,"e":66},{"t":3.75,"y":1040,"e":65},{"t":4,"y":1020,"e":63},
{"t":4.25,"y":1000,"e":63},{"t":4.5,"y":1030,"e":65},{"t":4.75,"y":1040,"e":65},{"t":5,"y":900,"e":61},
{"t":5.25,"y":1020,"e":63},{"t":5.5,"y":1045,"e":65},{"t":5.75,"y":1030,"e":65},{"t":6,"y":1050,"e":65},
{"t":6.25,"y":1080,"e":66},{"t":6.5,"y":960,"e":61},{"t":6.75,"y":975,"e":63},{"t":7,"y":950,"e":61},
{"t":7.25,"y":970,"e":61},{"t":7.5,"y":945,"e":61},{"t":7.75,"y":900,"e":61},{"t":8,"y":870,"e":59},
{"t":8.25,"y":985,"e":63},{"t":8.5,"y":1000,"e":63},{"t":8.75,"y":1020,"e":63},{"t":9,"y":990,"e":63},
{"t":9.25,"y":1010,"e":63},{"t":9.5,"y":1060,"e":65},{"t":9.75,"y":1050,"e":65},{"t":10,"y":1030,"e":65},
{"t":10.25,"y":1000,"e":63},{"t":10.5,"y":1020,"e":63},{"t":10.75,"y":1005,"e":63},{"t":11,"y":1015,"e":63},
{"t":11.25,"y":960,"e":61},{"t":11.5,"y":940,"e":61},{"t":11.75,"y":970,"e":61},{"t":12,"y":960,"e":61},
{"t":12.25,"y":1060,"e":65},{"t":12.5,"y":1100,"e":66},{"t":12.75,"y":1080,"e":66},{"t":13,"y":1115,"e":66},
{"t":13.25,"y":1080,"e":66},{"t":13.5,"y":1120,"e":66},{"t":13.75,"y":980,"e":63},{"t":14,"y":970,"e":61},
{"t":14.25,"y":990,"e":63},{"t":14.5,"y":960,"e":61},{"t":14.75,"y":1000,"e":63},{"t":15,"y":975,"e":63},
{"t":15.25,"y":1000,"e":63},{"t":15.5,"y":1060,"e":65},{"t":15.75,"y":1055,"e":65},{"t":16,"y":1040,"e":65},
{"t":16.25,"y":990,"e":63},{"t":16.5,"y":960,"e":61},{"t":16.75,"y":980,"e":63},{"t":17,"y":970,"e":61},
{"t":17.25,"y":990,"e":63},{"t":17.5,"y":850,"e":59},{"t":17.75,"y":950,"e":61},{"t":18,"y":1000,"e":63},
{"t":18.25,"y":980,"e":63},{"t":18.5,"y":1010,"e":63},{"t":18.75,"y":960,"e":61},{"t":19,"y":990,"e":63},
{"t":19.25,"y":960,"e":61},{"t":19.5,"y":1080,"e":66},{"t":19.75,"y":1100,"e":66},{"t":20,"y":1060,"e":65},
{"t":20.25,"y":1030,"e":65},{"t":20.5,"y":990,"e":63},{"t":20.75,"y":1020,"e":63},{"t":21,"y":1080,"e":66},
{"t":21.25,"y":1060,"e":65},{"t":21.5,"y":1040,"e":65},{"t":21.75,"y":1010,"e":63},{"t":22,"y":1040,"e":65},
{"t":22.25,"y":960,"e":61},{"t":22.5,"y":985,"e":63},{"t":22.75,"y":1000,"e":63},{"t":23,"y":1050,"e":65},
{"t":23.25,"y":1030,"e":65},{"t":23.5,"y":1060,"e":65},{"t":23.75,"y":1045,"e":65},{"t":24,"y":1080,"e":66},
{"t":24.25,"y":1060,"e":65},{"t":24.5,"y":1000,"e":63},{"t":24.75,"y":1040,"e":65},{"t":25,"y":1020,"e":63},
{"t":25.25,"y":1040,"e":65},{"t":25.5,"y":1010,"e":63},{"t":25.75,"y":1060,"e":65},{"t":26,"y":1100,"e":66},
{"t":26.25,"y":1030,"e":65},{"t":26.5,"y":980,"e":63},{"t":26.75,"y":920,"e":61},{"t":27,"y":950,"e":61},
{"t":27.25,"y":930,"e":61},{"t":27.5,"y":960,"e":61},{"t":27.75,"y":905,"e":61},{"t":28,"y":945,"e":61},
{"t":28.25,"y":930,"e":61},{"t":28.5,"y":960,"e":61},{"t":28.75,"y":950,"e":61},{"t":29,"y":935,"e":61},
{"t":29.25,"y":980,"e":63},{"t":29.5,"y":1000,"e":63},{"t":29.75,"y":1020,"e":63},{"t":30,"y":1005,"e":63},
{"t":30.25,"y":1040,"e":65},{"t":30.5,"y":1000,"e":63},{"t":30.75,"y":1020,"e":63},{"t":31,"y":1100,"e":66},
{"t":31.25,"y":1080,"e":66},{"t":31.5,"y":1060,"e":65},{"t":31.75,"y":1090,"e":66},{"t":32,"y":1040,"e":65},
{"t":32.25,"y":1020,"e":63},{"t":32.5,"y":1040,"e":65},{"t":32.75,"y":1030,"e":65},{"t":33,"y":1010,"e":63},
{"t":33.25,"y":1030,"e":65},{"t":33.5,"y":1060,"e":65},{"t":33.75,"y":1045,"e":65},{"t":34,"y":1000,"e":63},
{"t":34.25,"y":1040,"e":65},{"t":34.5,"y":1020,"e":63},{"t":34.75,"y":1000,"e":63},{"t":35,"y":1030,"e":65},
{"t":35.25,"y":1045,"e":65},{"t":35.5,"y":1060,"e":65},{"t":35.75,"y":1010,"e":63},{"t":36,"y":1090,"e":66},
{"t":36.25,"y":880,"e":59},{"t":36.5,"y":900,"e":61},{"t":36.75,"y":960,"e":61},{"t":37,"y":1000,"e":63},
{"t":37.25,"y":1040,"e":65},{"t":37.5,"y":1030,"e":65},{"t":37.75,"y":1060,"e":65},{"t":38,"y":1050,"e":65},
{"t":38.25,"y":1060,"e":65},{"t":38.5,"y":1040,"e":65},{"t":38.75,"y":1000,"e":63},{"t":39,"y":980,"e":63},
{"t":39.25,"y":1040,"e":65},{"t":39.5,"y":1020,"e":63},{"t":39.75,"y":1060,"e":65},{"t":40,"y":1050,"e":65},
{"t":40.25,"y":1055,"e":65},{"t":40.5,"y":1000,"e":63},{"t":40.75,"y":1020,"e":63},{"t":41,"y":990,"e":63},
{"t":41.25,"y":980,"e":63},{"t":41.5,"y":1000,"e":63},{"t":41.75,"y":985,"e":63},{"t":42,"y":970,"e":61},
{"t":42.25,"y":960,"e":61},{"t":42.5,"y":950,"e":61},{"t":42.75,"y":930,"e":61},{"t":43,"y":960,"e":61},
{"t":43.25,"y":945,"e":61},{"t":43.5,"y":1000,"e":63},{"t":43.75,"y":980,"e":63},{"t":44,"y":1010,"e":63},
{"t":44.25,"y":965,"e":61},{"t":44.5,"y":990,"e":63},{"t":44.75,"y":960,"e":61},{"t":45,"y":985,"e":63},
{"t":45.25,"y":980,"e":63},{"t":45.5,"y":1020,"e":63},{"t":45.75,"y":1040,"e":65},{"t":46,"y":1060,"e":65},
{"t":46.25,"y":1035,"e":65},{"t":46.5,"y":1100,"e":66},{"t":46.75,"y":1010,"e":63},{"t":47,"y":1000,"e":63},
{"t":47.25,"y":985,"e":63},{"t":47.5,"y":1000,"e":63},{"t":47.75,"y":970,"e":61},{"t":48,"y":980,"e":63},
{"t":48.25,"y":940,"e":61},{"t":48.5,"y":920,"e":61},{"t":48.75,"y":880,"e":59},{"t":49,"y":960,"e":61},
{"t":49.25,"y":1000,"e":63},{"t":49.5,"y":1020,"e":63},{"t":49.75,"y":1040,"e":65},{"t":50,"y":1010,"e":63},
{"t":50.25,"y":1020,"e":63},{"t":50.5,"y":1035,"e":65},{"t":50.75,"y":1010,"e":63},{"t":51,"y":1040,"e":65},
{"t":51.25,"y":1030,"e":65},{"t":51.5,"y":1060,"e":65},{"t":51.75,"y":1040,"e":65},{"t":52,"y":1070,"e":65},
{"t":52.25,"y":1080,"e":66},{"t":52.5,"y":1060,"e":65},{"t":52.75,"y":1040,"e":65},{"t":53,"y":1085,"e":66},
{"t":53.25,"y":1100,"e":66},{"t":53.5,"y":980,"e":63},{"t":53.75,"y":960,"e":61},{"t":54,"y":990,"e":63},
{"t":54.25,"y":970,"e":61},{"t":54.5,"y":960,"e":61},{"t":54.75,"y":940,"e":61},{"t":55,"y":955,"e":61},
{"t":55.25,"y":960,"e":61},{"t":55.5,"y":980,"e":63},{"t":55.75,"y":1000,"e":63},{"t":56,"y":1010,"e":63}
],
"th0123": [
{"t":-7.75,"y":2730,"e":104},{"t":-7.5,"y":2680,"e":104},{"t":-7.25,"y":2700,"e":104},{"t":-7,"y":2640,"e":102},
{"t":-6.75,"y":2760,"e":106},{"t":-6.5,"y":2780,"e":106},{"t":-6.25,"y":2800,"e":106},{"t":-6,"y":2720,"e":104},
{"t":-5.75,"y":2920,"e":108},{"t":-5.5,"y":2940,"e":108},{"t":-5.25,"y":2750,"e":106},{"t":-5,"y":2690,"e":104},
{"t":-4.75,"y":2650,"e":104},{"t":-4.5,"y":2700,"e":104},{"t":-4.25,"y":2780,"e":106},{"t":-4,"y":2800,"e":106},
{"t":-3.75,"y":2790,"e":106},{"t":-3.5,"y":2760,"e":106},{"t":-3.25,"y":2740,"e":104},{"t":-3,"y":2770,"e":106},
{"t":-2.75,"y":2760,"e":106},{"t":-2.5,"y":2800,"e":106},{"t":-2.25,"y":2780,"e":106},{"t":-2,"y":3220,"e":114},
{"t":-1.75,"y":3180,"e":114},{"t":-1.5,"y":2700,"e":104},{"t":-1.25,"y":2650,"e":104},{"t":-1,"y":2680,"e":104},
{"t":-0.75,"y":2800,"e":106},{"t":-0.5,"y":2850,"e":108},{"t":-0.25,"y":2830,"e":106},{"t":0,"y":3300,"e":117},
{"t":0.25,"y":3460,"e":117},{"t":0.5,"y":3480,"e":117},{"t":0.75,"y":2700,"e":104},{"t":1,"y":2720,"e":104},
{"t":1.25,"y":2680,"e":104},{"t":1.5,"y":2760,"e":106},{"t":1.75,"y":2700,"e":104},{"t":2,"y":2640,"e":102},
{"t":2.25,"y":2780,"e":106},{"t":2.5,"y":2740,"e":104},{"t":2.75,"y":2800,"e":106},{"t":3,"y":2850,"e":108},
{"t":3.25,"y":2820,"e":106},{"t":3.5,"y":2940,"e":108},{"t":3.75,"y":2960,"e":110},{"t":4,"y":2790,"e":106},
{"t":4.25,"y":2760,"e":106},{"t":4.5,"y":2820,"e":106},{"t":4.75,"y":2800,"e":106},{"t":5,"y":2780,"e":106},
{"t":5.25,"y":2850,"e":108},{"t":5.5,"y":2820,"e":106},{"t":5.75,"y":2900,"e":108},{"t":6,"y":2780,"e":106},
{"t":6.25,"y":2760,"e":106},{"t":6.5,"y":2800,"e":106},{"t":6.75,"y":2770,"e":106},{"t":7,"y":2790,"e":106},
{"t":7.25,"y":2700,"e":104},{"t":7.5,"y":2680,"e":104},{"t":7.75,"y":2660,"e":104},{"t":8,"y":2700,"e":104},
{"t":8.25,"y":2780,"e":106},{"t":8.5,"y":2740,"e":104},{"t":8.75,"y":2760,"e":106},{"t":9,"y":2750,"e":106},
{"t":9.25,"y":2850,"e":108},{"t":9.5,"y":2880,"e":108},{"t":9.75,"y":2860,"e":108},{"t":10,"y":2840,"e":106},
{"t":10.25,"y":2620,"e":102},{"t":10.5,"y":2700,"e":104},{"t":10.75,"y":2750,"e":106},{"t":11,"y":2780,"e":106},
{"t":11.25,"y":2760,"e":106},{"t":11.5,"y":2800,"e":106},{"t":11.75,"y":2740,"e":104},{"t":12,"y":2790,"e":106},
{"t":12.25,"y":2850,"e":108},{"t":12.5,"y":2920,"e":108},{"t":12.75,"y":2890,"e":108},{"t":13,"y":2800,"e":106},
{"t":13.25,"y":2750,"e":106},{"t":13.5,"y":2650,"e":104},{"t":13.75,"y":2760,"e":106},{"t":14,"y":2800,"e":106},
{"t":14.25,"y":2840,"e":106},{"t":14.5,"y":2800,"e":106},{"t":14.75,"y":2850,"e":108},{"t":15,"y":2780,"e":106},
{"t":15.25,"y":2700,"e":104},{"t":15.5,"y":2740,"e":104},{"t":15.75,"y":2720,"e":104},{"t":16,"y":2700,"e":104},
{"t":16.25,"y":2650,"e":104},{"t":16.5,"y":2700,"e":104},{"t":16.75,"y":2680,"e":104},{"t":17,"y":2660,"e":104},
{"t":17.25,"y":2780,"e":106},{"t":17.5,"y":2820,"e":106},{"t":17.75,"y":2700,"e":104},{"t":18,"y":2650,"e":104},
{"t":18.25,"y":2700,"e":104},{"t":18.5,"y":2760,"e":106},{"t":18.75,"y":2720,"e":104},{"t":19,"y":2740,"e":104},
{"t":19.25,"y":2800,"e":106},{"t":19.5,"y":2760,"e":106},{"t":19.75,"y":2780,"e":106},{"t":20,"y":2770,"e":106},
{"t":20.25,"y":2780,"e":106},{"t":20.5,"y":2740,"e":104},{"t":20.75,"y":2790,"e":106},{"t":21,"y":2750,"e":106},
{"t":21.25,"y":2720,"e":104},{"t":21.5,"y":2700,"e":104},{"t":21.75,"y":2680,"e":104},{"t":22,"y":2720,"e":104},
{"t":22.25,"y":2700,"e":104},{"t":22.5,"y":2780,"e":106},{"t":22.75,"y":2760,"e":106},{"t":23,"y":2800,"e":106},
{"t":23.25,"y":2790,"e":106},{"t":23.5,"y":2780,"e":106},{"t":23.75,"y":2800,"e":106},{"t":24,"y":2770,"e":106},
{"t":24.25,"y":2760,"e":106},{"t":24.5,"y":2780,"e":106},{"t":24.75,"y":2770,"e":106},{"t":25,"y":2750,"e":106},
{"t":25.25,"y":2780,"e":106},{"t":25.5,"y":2760,"e":106},{"t":25.75,"y":2790,"e":106},{"t":26,"y":2800,"e":106},
{"t":26.25,"y":2780,"e":106},{"t":26.5,"y":2750,"e":106},{"t":26.75,"y":2720,"e":104},{"t":27,"y":2760,"e":106},
{"t":27.25,"y":2920,"e":108},{"t":27.5,"y":2900,"e":108},{"t":27.75,"y":2700,"e":104},{"t":28,"y":2650,"e":104},
{"t":28.25,"y":2920,"e":108},{"t":28.5,"y":2760,"e":106},{"t":28.75,"y":2780,"e":106},{"t":29,"y":2800,"e":106},
{"t":29.25,"y":2760,"e":106},{"t":29.5,"y":2790,"e":106},{"t":29.75,"y":2740,"e":104},{"t":30,"y":2700,"e":104},
{"t":30.25,"y":2720,"e":104},{"t":30.5,"y":2800,"e":106},{"t":30.75,"y":2830,"e":106},{"t":31,"y":2850,"e":108},
{"t":31.25,"y":2820,"e":106},{"t":31.5,"y":2850,"e":108},{"t":31.75,"y":3000,"e":110},{"t":32,"y":2900,"e":108},
{"t":32.25,"y":2850,"e":108},{"t":32.5,"y":2800,"e":106},{"t":32.75,"y":2780,"e":106},{"t":33,"y":2790,"e":106},
{"t":33.25,"y":2820,"e":106},{"t":33.5,"y":2780,"e":106},{"t":33.75,"y":2850,"e":108},{"t":34,"y":2800,"e":106},
{"t":34.25,"y":2830,"e":106},{"t":34.5,"y":2760,"e":106},{"t":34.75,"y":2800,"e":106},{"t":35,"y":2780,"e":106},
{"t":35.25,"y":2790,"e":106},{"t":35.5,"y":2750,"e":106},{"t":35.75,"y":2800,"e":106},{"t":36,"y":2770,"e":106},
{"t":36.25,"y":2600,"e":102},{"t":36.5,"y":2580,"e":102},{"t":36.75,"y":2620,"e":102},{"t":37,"y":2850,"e":108},
{"t":37.25,"y":2880,"e":108},{"t":37.5,"y":2900,"e":108},{"t":37.75,"y":2860,"e":108},{"t":38,"y":2800,"e":106},
{"t":38.25,"y":2900,"e":108},{"t":38.5,"y":2800,"e":106},{"t":38.75,"y":2760,"e":106},{"t":39,"y":2700,"e":104},
{"t":39.25,"y":2750,"e":106},{"t":39.5,"y":2800,"e":106},{"t":39.75,"y":2820,"e":106},{"t":40,"y":2850,"e":108},
{"t":40.25,"y":2840,"e":106},{"t":40.5,"y":2800,"e":106},{"t":40.75,"y":2760,"e":106},{"t":41,"y":2720,"e":104},
{"t":41.25,"y":2700,"e":104},{"t":41.5,"y":2740,"e":104},{"t":41.75,"y":2720,"e":104},{"t":42,"y":2550,"e":102},
{"t":42.25,"y":2750,"e":106},{"t":42.5,"y":2780,"e":106},{"t":42.75,"y":2800,"e":106},{"t":43,"y":2760,"e":106},
{"t":43.25,"y":2600,"e":102},{"t":43.5,"y":2700,"e":104},{"t":43.75,"y":2720,"e":104},{"t":44,"y":2710,"e":104},
{"t":44.25,"y":2700,"e":104},{"t":44.5,"y":2850,"e":108},{"t":44.75,"y":2830,"e":106},{"t":45,"y":2860,"e":108},
{"t":45.25,"y":2620,"e":102},{"t":45.5,"y":2600,"e":102},{"t":45.75,"y":2650,"e":104},{"t":46,"y":2850,"e":108},
{"t":46.25,"y":2880,"e":108},{"t":46.5,"y":2900,"e":108},{"t":46.75,"y":2860,"e":108},{"t":47,"y":2850,"e":108},
{"t":47.25,"y":2820,"e":106},{"t":47.5,"y":2760,"e":106},{"t":47.75,"y":2780,"e":106},{"t":48,"y":2750,"e":106},
{"t":48.25,"y":2700,"e":104},{"t":48.5,"y":2680,"e":104},{"t":48.75,"y":2650,"e":104},{"t":49,"y":2700,"e":104},
{"t":49.25,"y":2760,"e":106},{"t":49.5,"y":2780,"e":106},{"t":49.75,"y":2800,"e":106},{"t":50,"y":2770,"e":106},
{"t":50.25,"y":2790,"e":106},{"t":50.5,"y":2800,"e":106},{"t":50.75,"y":2870,"e":108},{"t":51,"y":2900,"e":108},
{"t":51.25,"y":2850,"e":108},{"t":51.5,"y":2750,"e":106},{"t":51.75,"y":2760,"e":106},{"t":52,"y":2740,"e":104},
{"t":52.25,"y":2750,"e":106},{"t":52.5,"y":2860,"e":108},{"t":52.75,"y":2880,"e":108},{"t":53,"y":2850,"e":108},
{"t":53.25,"y":2700,"e":104},{"t":53.5,"y":2680,"e":104},{"t":53.75,"y":2650,"e":104},{"t":54,"y":2720,"e":104},
{"t":54.25,"y":2750,"e":106},{"t":54.5,"y":2760,"e":106},{"t":54.75,"y":2740,"e":104},{"t":55,"y":2700,"e":104},
{"t":55.25,"y":2720,"e":104},{"t":55.5,"y":2750,"e":106},{"t":55.75,"y":2730,"e":104},{"t":56,"y":2800,"e":106}
]
}
}
